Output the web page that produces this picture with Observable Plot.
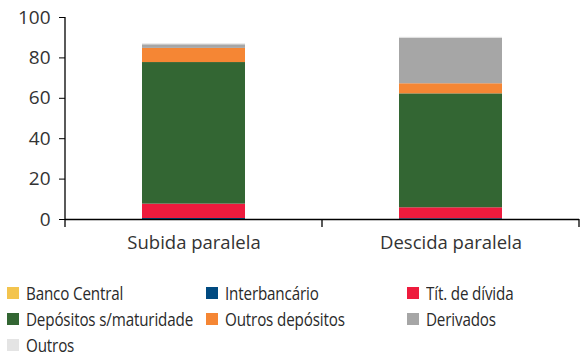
<!DOCTYPE html>
<html>
<head>
<meta charset="utf-8">
<script src="https://cdn.jsdelivr.net/npm/d3@7"></script>
<script src="https://cdn.jsdelivr.net/npm/@observablehq/plot@0.6"></script>
<style>
  html, body { margin: 0; padding: 0; background: #fff; }
  body { width: 586px; height: 359px; overflow: hidden; font-family: "Open Sans", sans-serif; color: #333; }
  #chart svg { display: block; }
  #legend { position: absolute; left: 7px; top: 280px; width: 580px; }
  .item { position: absolute; height: 26px; display: flex; align-items: center; white-space: nowrap; }
  .sw { width: 12px; height: 12px; margin-right: 7px; flex: none; }
  .lab { font-size: 19px; display: inline-block; transform-origin: left center; transform: scaleX(0.8); letter-spacing: -0.2px; color: #2a2a2a; }
</style>
</head>
<body>
<div id="chart"></div>
<div id="legend"></div>
<script>
const categories = ["Subida paralela", "Descida paralela"];
const series = ["Banco Central", "Interbancário", "Tít. de dívida", "Depósitos s/maturidade", "Outros depósitos", "Derivados", "Outros"];
const colors = ["#F3C44E", "#004A80", "#EE1B3D", "#336633", "#F58634", "#A6A6A6", "#E4E4E4"];
const valuesSubida = [0, 0.5, 7.1, 70.1, 7.0, 1.8, 0.5];
const valuesDescida = [0, 0.4, 5.4, 56.4, 5.0, 22.6, 0.4];
const yTicks = [0, 20, 40, 60, 80, 100];

const data = [];
[valuesSubida, valuesDescida].forEach((vals, ci) => {
  vals.forEach((v, si) => data.push({cat: categories[ci], series: series[si], value: v}));
});

const plot = Plot.plot({
  width: 586,
  height: 265,
  marginLeft: 65,
  marginRight: 7,
  marginTop: 17,
  marginBottom: 46,
  style: {fontFamily: "'Open Sans', sans-serif", fontSize: "19px", color: "#333", background: "#fff"},
  x: {domain: categories, padding: 0.6, paddingOuter: 0.3, label: null, axis: null},
  y: {domain: [0, 100], ticks: yTicks, label: null, axis: null},
  color: {domain: series, range: colors},
  marks: [
    Plot.barY(data, {x: "cat", y: "value", fill: "series", order: series}),
    Plot.ruleY([0], {stroke: "#000", strokeWidth: 1.3}),
    Plot.axisY({ticks: yTicks, tickSize: 6, tickPadding: 9, label: null, stroke: "#000", fontSize: 19, fill: "#333"}),
    Plot.axisX({tickSize: 0, tickPadding: 16, label: null, fontSize: 18.5, fill: "#333"})
  ]
});
document.getElementById("chart").appendChild(plot);

// y-axis line and category boundary ticks, from the scales
const xs = plot.scale("x"), ys = plot.scale("y");
const svg = d3.select(plot);
const x0 = xs.range[0], x1 = xs.range[1];
const yTop = ys.apply(ys.domain[1]), yZero = ys.apply(0);
svg.append("line").attr("x1", x0).attr("x2", x0).attr("y1", yTop).attr("y2", yZero + 8)
  .attr("stroke", "#000").attr("stroke-width", 1.3);
const bounds = [x0, (x0 + x1) / 2, x1];
bounds.slice(1).forEach(b => {
  svg.append("line").attr("x1", b).attr("x2", b).attr("y1", yZero).attr("y2", yZero + 8)
    .attr("stroke", "#000").attr("stroke-width", 1.3);
});

// legend
const cols = [0, 199, 400];
const leg = document.getElementById("legend");
series.forEach((s, i) => {
  const d = document.createElement("div");
  d.className = "item";
  d.style.left = cols[i % 3] + "px";
  d.style.top = (Math.floor(i / 3) * 26) + "px";
  d.innerHTML = `<span class="sw" style="background:${colors[i]}"></span><span class="lab">${s}</span>`;
  leg.appendChild(d);
});
</script>
</body>
</html>
